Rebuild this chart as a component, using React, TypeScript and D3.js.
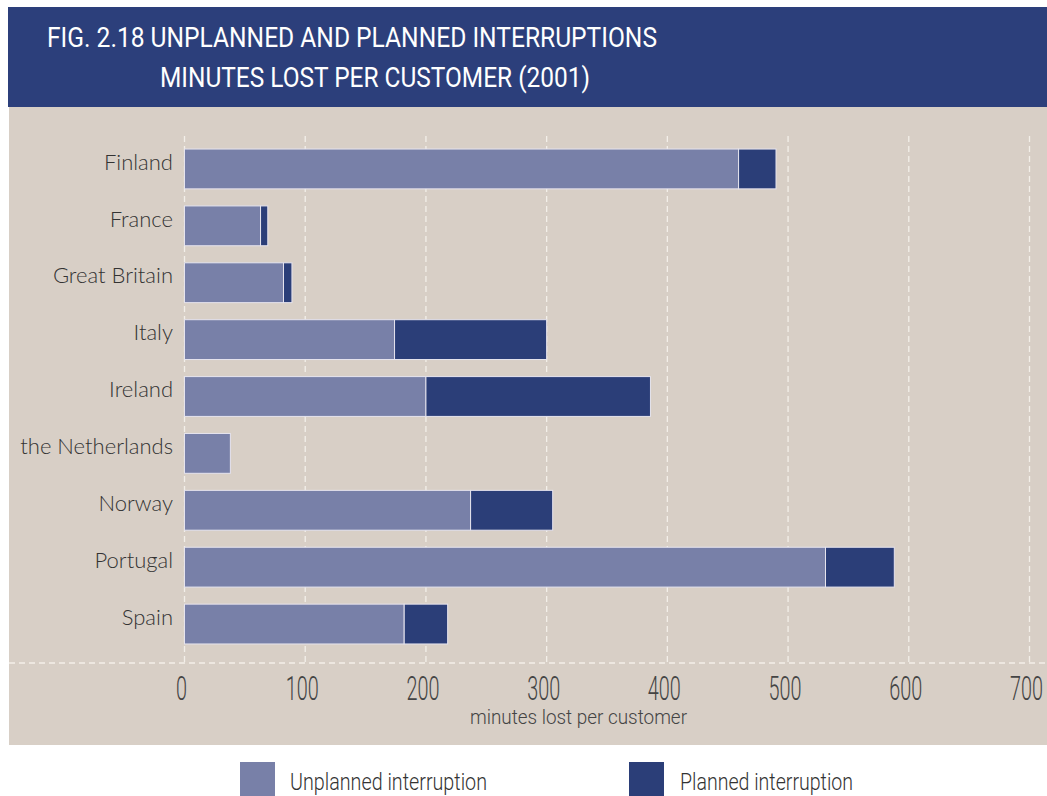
import React from "react";
import * as d3 from "d3";

const countries = ["Finland", "France", "Great Britain", "Italy", "Ireland", "the Netherlands", "Norway", "Portugal", "Spain"];
const unplanned = [459, 63, 82, 174, 200, 38, 237, 531, 182];
const planned = [31, 6, 7, 126, 186, 0, 68, 57, 36];
const xTicks = [0, 100, 200, 300, 400, 500, 600, 700];
const seriesNames = ["Unplanned interruption", "Planned interruption"];
const titleLines = ["FIG. 2.18 UNPLANNED AND PLANNED INTERRUPTIONS", "MINUTES LOST PER CUSTOMER (2001)"];
const axisTitle = "minutes lost per customer";

const W = 1047;
const H = 796;
const C_UNPL = "#7880a8";
const C_PL = "#2b3e78";
const BG = "#d8cfc6";
const condensed = "Roboto, 'DejaVu Sans', sans-serif";
const labelFont = "Lato, 'Open Sans', sans-serif";

export default function App() {
  const x = d3.scaleLinear().domain([0, 700]).range([184.5, 1029.5]);
  const y = d3.scaleBand<string>().domain(countries).range([140.5, 652.5]).paddingInner(0.3).paddingOuter(0.15);
  const bw = y.bandwidth();
  const axisY = 663;

  return (
    <svg width={W} height={H} style={{ position: "absolute", left: 0, top: 0, background: "#ffffff" }}>
      {/* header */}
      <rect x={8} y={7} width={W - 8} height={100} fill="#2c3f7b" />
      <text x={47} y={47} fill="#ffffff" fontFamily={condensed} fontSize={28} textLength={610} lengthAdjust="spacingAndGlyphs">
        {titleLines[0]}
      </text>
      <text x={160} y={87} fill="#ffffff" fontFamily={condensed} fontSize={28} textLength={430} lengthAdjust="spacingAndGlyphs">
        {titleLines[1]}
      </text>
      {/* panel */}
      <rect x={9} y={107} width={W - 9} height={638} fill={BG} />
      {/* grid */}
      {xTicks.map((t) => (
        <line key={"g" + t} x1={x(t)} x2={x(t)} y1={136} y2={axisY} stroke="#f3efe9" strokeWidth={1.3} strokeDasharray="6,4" />
      ))}
      <line x1={9} x2={W} y1={axisY} y2={axisY} stroke="#f3efe9" strokeWidth={1.3} strokeDasharray="6,4" />
      {/* bars */}
      {countries.map((c, i) => (
        <g key={c}>
          <rect x={x(0)} y={y(c)} width={x(unplanned[i]) - x(0)} height={bw} fill={C_UNPL} stroke="#e6e4ee" strokeWidth={1} />
          {planned[i] > 0 && (
            <rect x={x(unplanned[i])} y={y(c)} width={x(unplanned[i] + planned[i]) - x(unplanned[i])} height={bw} fill={C_PL} stroke="#e6e4ee" strokeWidth={1} />
          )}
          <text x={173} y={(y(c) as number) + bw / 2 - 7} dy="0.35em" textAnchor="end" fill="#333333" fontFamily={labelFont} fontSize={22} fontWeight={300}>
            {c}
          </text>
        </g>
      ))}
      {/* x tick labels */}
      {xTicks.map((t) => {
        const s = String(t);
        const len = s.length * 11;
        return (
          <text key={"t" + t} x={x(t) - 3 - len / 2} y={700} fill="#444444" fontFamily={condensed} fontSize={33} fontWeight={300} textLength={len} lengthAdjust="spacingAndGlyphs">
            {s}
          </text>
        );
      })}
      <text x={470} y={724} fill="#444444" fontFamily={condensed} fontSize={20} fontWeight={300} textLength={217} lengthAdjust="spacingAndGlyphs">
        {axisTitle}
      </text>
      {/* legend */}
      <rect x={240} y={762} width={35} height={40} fill={C_UNPL} />
      <text x={290} y={790} fill="#333333" fontFamily={condensed} fontSize={23} fontWeight={300} textLength={197} lengthAdjust="spacingAndGlyphs">{seriesNames[0]}</text>
      <rect x={629} y={762} width={35} height={40} fill={C_PL} />
      <text x={680} y={790} fill="#333333" fontFamily={condensed} fontSize={23} fontWeight={300} textLength={173} lengthAdjust="spacingAndGlyphs">{seriesNames[1]}</text>
    </svg>
  );
}
